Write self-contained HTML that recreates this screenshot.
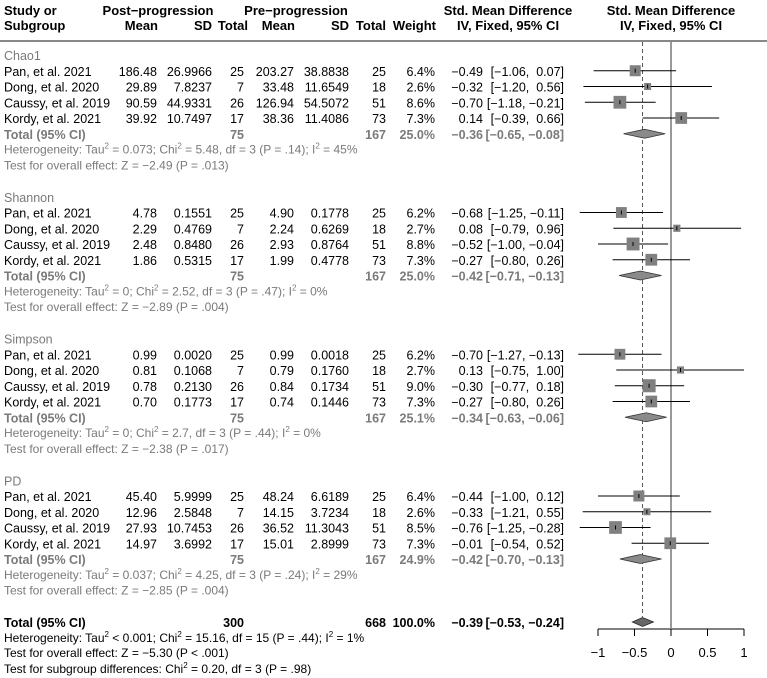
<!DOCTYPE html>
<html><head><meta charset="utf-8"><style>
html,body{margin:0;padding:0;background:#fff;}
svg{display:block;font-family:"Liberation Sans",Arial,sans-serif;}
text{white-space:pre;}
</style></head><body>
<svg id="fp" width="767" height="678" viewBox="0 0 767 678" xmlns="http://www.w3.org/2000/svg"></svg>
<script>
// ---- data arrays ----
const groupNames = ["Chao1","Shannon","Simpson","PD"];
const studyNames = ["Pan, et al. 2021","Dong, et al. 2020","Caussy, et al. 2019","Kordy, et al. 2021"];
const postMean = [["186.48","29.89","90.59","39.92"],["4.78","2.29","2.48","1.86"],["0.99","0.81","0.78","0.70"],["45.40","12.96","27.93","14.97"]];
const postSD = [["26.9966","7.8237","44.9331","10.7497"],["0.1551","0.4769","0.8480","0.5315"],["0.0020","0.1068","0.2130","0.1773"],["5.9999","2.5848","10.7453","3.6992"]];
const postN = [25,7,26,17];
const preMean = [["203.27","33.48","126.94","38.36"],["4.90","2.24","2.93","1.99"],["0.99","0.79","0.84","0.74"],["48.24","14.15","36.52","15.01"]];
const preSD = [["38.8838","11.6549","54.5072","11.4086"],["0.1778","0.6269","0.8764","0.4778"],["0.0018","0.1760","0.1734","0.1446"],["6.6189","3.7234","11.3043","2.8999"]];
const preN = [25,18,51,73];
const weights = [[6.4,2.6,8.6,7.3],[6.2,2.7,8.8,7.3],[6.2,2.7,9.0,7.3],[6.4,2.6,8.5,7.3]];
const smd = [[-0.49,-0.32,-0.70,0.14],[-0.68,0.08,-0.52,-0.27],[-0.70,0.13,-0.30,-0.27],[-0.44,-0.33,-0.76,-0.01]];
const ciLow = [[-1.06,-1.20,-1.18,-0.39],[-1.25,-0.79,-1.00,-0.80],[-1.27,-0.75,-0.77,-0.80],[-1.00,-1.21,-1.25,-0.54]];
const ciHigh = [[0.07,0.56,-0.21,0.66],[-0.11,0.96,-0.04,0.26],[-0.13,1.00,0.18,0.26],[0.12,0.55,-0.28,0.52]];
const groupWeight = [25.0,25.0,25.1,24.9];
const groupSmd = [-0.36,-0.42,-0.34,-0.42];
const groupLow = [-0.65,-0.71,-0.63,-0.70];
const groupHigh = [-0.08,-0.13,-0.06,-0.13];
const groupHet = [["= 0.073","5.48","3",".14","45%"],["= 0","2.52","3",".47","0%"],["= 0","2.7","3",".44","0%"],["= 0.037","4.25","3",".24","29%"]];
const groupZ = [["−2.49","= .013"],["−2.89","= .004"],["−2.38","= .017"],["−2.85","= .004"]];
const overall = [-0.39,-0.53,-0.24];
const axisTicks = [-1,-0.5,0,0.5,1];
const axisTickLabels = ["−1","−0.5","0","0.5","1"];

const NS="http://www.w3.org/2000/svg";
const svg=document.getElementById('fp');
const X0=671, SC=73, FS=12.5;
const C={mean:157,sd:212,tot:244,pmean:294,psd:349,ptot:386,w:435,est:483,ci:564};
function xs(v){return X0+v*SC;}
function ry(i){return 55+i*15.75;}
function el(tag,attrs,parent){const e=document.createElementNS(NS,tag);for(const k in attrs)e.setAttribute(k,attrs[k]);(parent||svg).appendChild(e);return e;}
function txt(x,y,s,opt){opt=opt||{};const t=el('text',{x:x,y:y,'font-size':opt.size||FS,'text-anchor':opt.anchor||'start',fill:opt.fill||'#000','font-weight':opt.bold?'bold':'normal'});t.textContent=s;return t;}
function f2(v){return (v<0?"−":"")+Math.abs(v).toFixed(2);}
function ciStr(l,h){return "["+f2(l)+", "+(h>=0?" ":"")+f2(h)+"]";}
function sup(s){return '<tspan dy="-5" font-size="8">'+s+'</tspan><tspan dy="5">';}
function het(y,tau,chi,df,p,i2,fill){
  const t=el('text',{x:4,y:y,'font-size':12,fill:fill});
  
  
  t.innerHTML='Heterogeneity: Tau'+sup('2')+' '+tau+'; Chi</tspan>'+sup('2')+' = '+chi+', df = '+df+' (P = '+p+'); I</tspan>'+sup('2')+' = '+i2+'</tspan>';
  return t;
}

// headers
const hdr=[["Study or",4,15,'start'],["Subgroup",4,30,'start'],["Post−progression",158,15,'middle'],["Pre−progression",296,15,'middle'],
["Mean",158,30,'end'],["SD",212,30,'end'],["Total",248,30,'end'],["Mean",295,30,'end'],["SD",349,30,'end'],["Total",386,30,'end'],["Weight",436,30,'end'],
["Std. Mean Difference",508,15,'middle'],["IV, Fixed, 95% CI",508,30,'middle'],["Std. Mean Difference",671,15,'middle'],["IV, Fixed, 95% CI",671,30,'middle']];
hdr.forEach(h=>{const t=txt(h[1],h[2],h[0],{anchor:h[3],bold:true,size:13});

});
const hl=el('line',{x1:0,x2:767,y1:41,y2:41,stroke:'#888','stroke-width':2});



// reference lines
const zl=el('line',{x1:xs(0),x2:xs(0),y1:42,y2:628,stroke:'#333','stroke-width':1});


const dl=el('line',{x1:xs(overall[0]),x2:xs(overall[0]),y1:42,y2:617,stroke:'#555','stroke-width':1,'stroke-dasharray':'4,3'});



const grey='#7a7a7a';
groupNames.forEach((g,gi)=>{
  const base=gi*9;
  const gl=txt(4,ry(base)+5,g,{fill:grey});
  
  
  studyNames.forEach((s,si)=>{
    const y=ry(base+1+si), b=y+5;
    const cols=[[s,4,'start'],[postMean[gi][si],C.mean,'end'],[postSD[gi][si],C.sd,'end'],[String(postN[si]),C.tot,'end'],[preMean[gi][si],C.pmean,'end'],[preSD[gi][si],C.psd,'end'],[String(preN[si]),C.ptot,'end'],[weights[gi][si].toFixed(1)+"%",C.w,'end'],[f2(smd[gi][si]),C.est,'end'],[ciStr(ciLow[gi][si],ciHigh[gi][si]),C.ci,'end']];
    cols.forEach(c=>{const t=txt(c[1],b,c[0],{anchor:c[2]});
      
      });
    const w=el('line',{x1:xs(ciLow[gi][si]),x2:xs(ciHigh[gi][si]),y1:y,y2:y,stroke:'#000','stroke-width':1});
    
    
    const side=4.35*Math.sqrt(weights[gi][si]);
    const r=el('rect',{x:xs(smd[gi][si])-side/2,y:y-side/2,width:side,height:side,fill:'#808080'});
    
    
    const tk=el('line',{x1:xs(smd[gi][si]),x2:xs(smd[gi][si]),y1:y-2,y2:y+2,stroke:'#000','stroke-width':1});
    
    
  });
  const ty=ry(base+5), tb=ty+5;
  [["Total (95% CI)",4,'start'],["75",C.tot,'end'],["167",C.ptot,'end'],[groupWeight[gi].toFixed(1)+"%",C.w,'end'],[f2(groupSmd[gi]),C.est,'end'],[ciStr(groupLow[gi],groupHigh[gi]),C.ci,'end']].forEach(c=>{
    const t=txt(c[1],tb,c[0],{anchor:c[2],bold:true,fill:grey});
    
    });
  const d=el('polygon',{points:[xs(groupLow[gi])+','+ty,xs(groupSmd[gi])+','+(ty-4.5),xs(groupHigh[gi])+','+ty,xs(groupSmd[gi])+','+(ty+4.5)].join(' '),fill:'#8a8a8a',stroke:'#333','stroke-width':0.8});
  
  
  const h=groupHet[gi];
  het(ry(base+6)+4,h[0],h[1],h[2],h[3],h[4],grey);
  const z=txt(4,ry(base+7)+4,"Test for overall effect: Z = "+groupZ[gi][0]+" (P "+groupZ[gi][1]+")",{fill:grey,size:12});
  
  
});

// overall
const oy=622, ob=oy+5;
[["Total (95% CI)",4,'start'],["300",C.tot,'end'],["668",C.ptot,'end'],["100.0%",C.w,'end'],[f2(overall[0]),C.est,'end'],[ciStr(overall[1],overall[2]),C.ci,'end']].forEach(c=>{
  const t=txt(c[1],ob,c[0],{anchor:c[2],bold:true});
  
  });
const od=el('polygon',{points:[xs(overall[1])+','+oy,xs(overall[0])+','+(oy-4.5),xs(overall[2])+','+oy,xs(overall[0])+','+(oy+4.5)].join(' '),fill:'#666',stroke:'#222','stroke-width':0.8});


het(642,"< 0.001","15.16","15",".44","1%",'#000');
const oz=txt(4,657,"Test for overall effect: Z = −5.30 (P < .001)",{size:12});


const sg=el('text',{x:4,y:673,'font-size':12,fill:'#000'});


sg.innerHTML='Test for subgroup differences: Chi<tspan dy="-5" font-size="8">2</tspan><tspan dy="5"> = 0.20, df = 3 (P = .98)</tspan>';

// axis
const ax=el('line',{x1:xs(-1),x2:xs(1),y1:629,y2:629,stroke:'#000','stroke-width':1});


axisTicks.forEach((v,i)=>{
  const t=el('line',{x1:xs(v),x2:xs(v),y1:629,y2:636,stroke:'#000','stroke-width':1});
  
  
  const l=txt(xs(v),657,axisTickLabels[i],{anchor:'middle',size:13});
  
  
});
</script>
</body></html>
